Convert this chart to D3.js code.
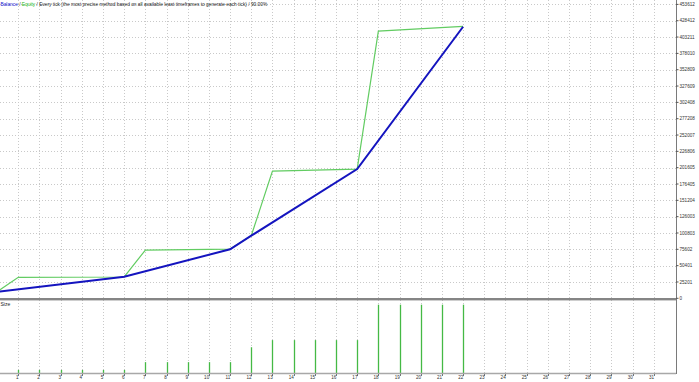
<!DOCTYPE html>
<html>
<head>
<meta charset="utf-8">
<script src="https://cdn.jsdelivr.net/npm/d3@7"></script>
<style>
  body { margin: 0; background: #fff; }
  text { font-family: "Liberation Sans", Arial, sans-serif; }
</style>
</head>
<body>
<div id="chart"></div>
<script>
// trade numbers on the x axis
const xTicks = [1, 2, 3, 4, 5, 6, 7, 8, 9, 10, 11, 12, 13, 14, 15, 16, 17, 18, 19, 20, 21, 22, 23, 24, 25, 26, 27, 28, 29, 30, 31]
const yTicks = [0, 25201, 50401, 75602, 100803, 126003, 151204, 176405, 201605, 226806, 252007, 277208, 302408, 327609, 352809, 378010, 403211, 428412, 453612]

const balanceX = [0, 6, 11, 12, 17, 22]
const balanceY = [10000, 33200, 75700, 96600, 199500, 419100]

const equityX = [0, 1, 6, 7, 11, 12, 13, 17, 18, 22]
const equityY = [10000, 32400, 32900, 74500, 76000, 96600, 196400, 199500, 412400, 419700]

const sizeX = [1, 2, 3, 4, 5, 6, 7, 8, 9, 10, 11, 12, 13, 14, 15, 16, 17, 18, 19, 20, 21, 22]
const sizeY = [0.1, 0.1, 0.1, 0.1, 0.1, 0.1, 0.35, 0.35, 0.35, 0.35, 0.35, 0.83, 1.06, 1.06, 1.06, 1.06, 1.06, 2.2, 2.2, 2.2, 2.2, 2.2]

const w = 699, h = 382
const right = 676,
      mainBottom = 298.3,
      sizeBottom = 373

const svg = d3.select('#chart').append('svg')
              .attr('width', w)
              .attr('height', h)

const x = d3.scaleLinear().domain([0, 31]).range([-2.9, 653.7])
const y = d3.scaleLinear().domain([0, 453612]).range([mainBottom, 4.4])
const ySize = d3.scaleLinear().domain([0, 2.2]).range([sizeBottom, 304.7])

// grid
const grid = svg.append('g')
                .attr('stroke', '#c9c9c9')
                .attr('stroke-dasharray', '1,2')
                .attr('stroke-width', 1)

grid.selectAll('.hgrid')
    .data(yTicks.slice(1))
    .enter().append('line')
    .attr('x1', 0).attr('x2', right)
    .attr('y1', d => Math.round(y(d)) + 0.5)
    .attr('y2', d => Math.round(y(d)) + 0.5)

grid.selectAll('.vgrid')
    .data(xTicks)
    .enter().append('line')
    .attr('x1', d => Math.round(x(d)) + 0.5)
    .attr('x2', d => Math.round(x(d)) + 0.5)
    .attr('y1', 0).attr('y2', sizeBottom)

// equity and balance
const lineOf = (xs, ys) => d3.line()
                             .x((d, i) => x(xs[i]))
                             .y((d, i) => y(ys[i]))(xs)

svg.append('path')
   .attr('d', lineOf(equityX, equityY))
   .attr('fill', 'none')
   .attr('stroke', '#62cc62')
   .attr('stroke-width', 1.2)

svg.append('path')
   .attr('d', lineOf(balanceX, balanceY))
   .attr('fill', 'none')
   .attr('stroke', '#1414bf')
   .attr('stroke-width', 2)

// size bars
svg.selectAll('.bar')
   .data(sizeX)
   .enter().append('line')
   .attr('class', 'bar')
   .attr('x1', d => Math.round(x(d)) + 0.5)
   .attr('x2', d => Math.round(x(d)) + 0.5)
   .attr('y1', sizeBottom)
   .attr('y2', (d, i) => ySize(sizeY[i]))
   .attr('stroke', '#45b945')
   .attr('stroke-width', 1.3)

// frame
svg.append('rect')
   .attr('x', 0).attr('y', mainBottom - 0.3)
   .attr('width', right).attr('height', 2.4)
   .attr('fill', '#858585')

svg.append('line')
   .attr('x1', 0).attr('x2', right)
   .attr('y1', sizeBottom + 0.5).attr('y2', sizeBottom + 0.5)
   .attr('stroke', '#a8a8a8')
   .attr('stroke-width', 1.6)

svg.append('line')
   .attr('x1', right + 0.5).attr('x2', right + 0.5)
   .attr('y1', 0).attr('y2', sizeBottom + 1)
   .attr('stroke', '#7a7a7a')
   .attr('stroke-width', 1)

// right axis
const yAxis = svg.append('g')
yAxis.selectAll('line')
     .data(yTicks)
     .enter().append('line')
     .attr('x1', right).attr('x2', right + 2.5)
     .attr('y1', d => y(d)).attr('y2', d => y(d))
     .attr('stroke', '#555')
yAxis.selectAll('text')
     .data(yTicks)
     .enter().append('text')
     .attr('x', right + 3.5)
     .attr('y', d => y(d) + 1.6)
     .attr('font-size', 4.6)
     .attr('fill', '#333')
     .text(d => d)

// bottom axis
const xAxis = svg.append('g')
xAxis.selectAll('line')
     .data(xTicks)
     .enter().append('line')
     .attr('x1', d => Math.round(x(d)) + 0.5)
     .attr('x2', d => Math.round(x(d)) + 0.5)
     .attr('y1', sizeBottom + 1).attr('y2', sizeBottom + 3)
     .attr('stroke', '#777')
xAxis.selectAll('text')
     .data(xTicks)
     .enter().append('text')
     .attr('x', d => x(d) + 0.3)
     .attr('y', 379.3)
     .attr('text-anchor', 'end')
     .attr('font-size', 4.6)
     .attr('fill', '#333')
     .text(d => d)

// header: natural spacing, font size fitted so the line ends near x=268
const header = svg.append('text')
                  .attr('x', 0.5)
                  .attr('y', 6)
                  .attr('font-size', 5.6)
                  .attr('fill', '#222')
header.append('tspan').attr('fill', '#1414d0').text('Balance')
header.append('tspan').text(' / ')
header.append('tspan').attr('fill', '#22b822').text('Equity')
header.append('tspan').text(' / Every tick (the most precise method based on all available least timeframes to generate each tick) / 90.00%')
const natural = header.node().getComputedTextLength()
header.attr('font-size', 5.6 * 267.5 / natural)

svg.append('text')
   .attr('x', 0.5)
   .attr('y', 306)
   .attr('font-size', 5)
   .attr('fill', '#222')
   .text('Size')
</script>
</body>
</html>
